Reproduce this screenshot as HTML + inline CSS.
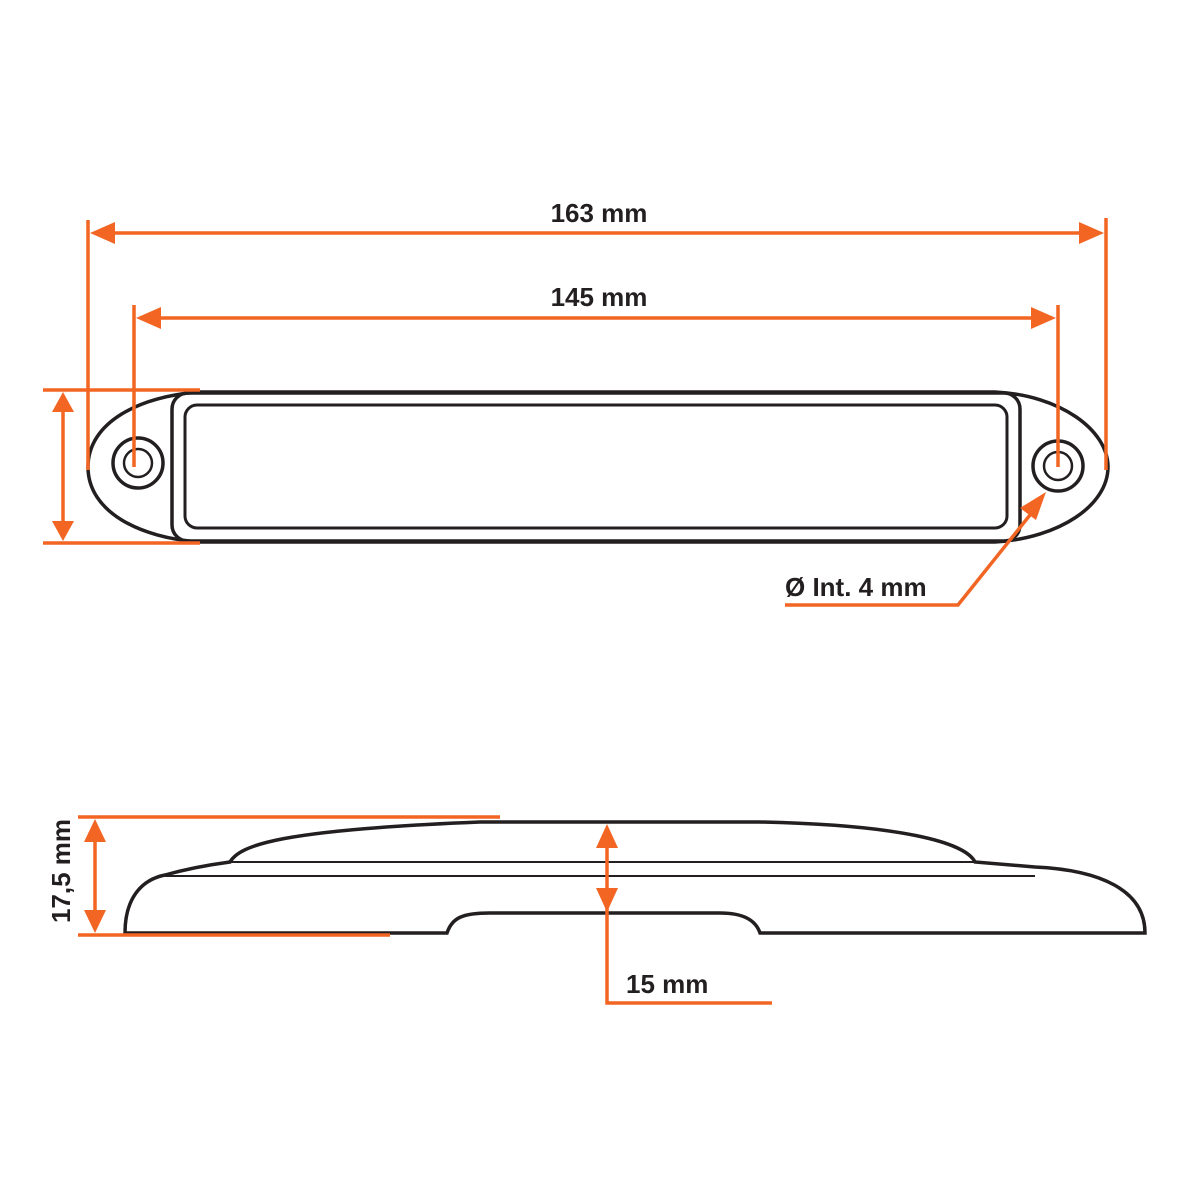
<!DOCTYPE html>
<html><head><meta charset="utf-8"><style>
html,body{margin:0;padding:0;background:#fff;}
svg{display:block}
text{font-family:"Liberation Sans",sans-serif;font-weight:bold;fill:#231f20}
</style></head><body>
<svg width="1200" height="1200" viewBox="0 0 1200 1200" xmlns="http://www.w3.org/2000/svg">
<g fill="none" stroke="#231f20" stroke-width="3.5">
<path d="M200,392 L995,392 C1060,395 1108,430 1108,467 C1108,505 1060,538 995,542 L200,542 C140,538 88,512 88,467 C88,422 140,396 200,392 Z"/>
<rect x="172" y="393" width="848" height="148" rx="16"/>
<rect x="185" y="405" width="822" height="123" rx="12" stroke-width="3"/>
<circle cx="138" cy="463" r="25"/>
<circle cx="138" cy="463" r="14" stroke-width="2.5"/>
<circle cx="1058" cy="466" r="25"/>
<circle cx="1058" cy="466" r="14" stroke-width="2.5"/>
<path d="M125,933 C125,900 140,880 165,875 C190,868 215,864 230,862 C240,845 280,830 480,822 L760,822 C900,825 965,842 975,862 L1035,867 C1100,870 1145,890 1145,933 L760,933 C755,918 740,913 720,913 L490,913 C462,913 452,918 447,933 Z"/>
<line x1="230" y1="862" x2="975" y2="862" stroke-width="2"/>
<line x1="165" y1="876" x2="1035" y2="876" stroke-width="2"/>
</g>
<g stroke="#f26522" stroke-width="3.5" fill="none">
<line x1="88" y1="220" x2="88" y2="470"/>
<line x1="1106" y1="218" x2="1106" y2="470"/>
<line x1="105" y1="233" x2="1090" y2="233"/>
<line x1="134" y1="305" x2="134" y2="467"/>
<line x1="1058" y1="305" x2="1058" y2="467"/>
<line x1="150" y1="318" x2="1042" y2="318"/>
<line x1="43" y1="390" x2="200" y2="390"/>
<line x1="43" y1="543" x2="200" y2="543"/>
<line x1="63" y1="405" x2="63" y2="528"/>
<polyline points="785,605 958,605 1030,515"/>
<line x1="78" y1="817" x2="500" y2="817"/>
<line x1="78" y1="935" x2="390" y2="935"/>
<line x1="95" y1="832" x2="95" y2="920"/>
<polyline points="607,840 607,1003 772,1003"/>
</g>
<g fill="#f26522">
<polygon points="90,233 115,222 115,244"/>
<polygon points="1104,233 1079,222 1079,244"/>
<polygon points="136,318 161,307 161,329"/>
<polygon points="1056,318 1031,307 1031,329"/>
<polygon points="63,392 52,412 74,412"/>
<polygon points="63,541 52,521 74,521"/>
<polygon points="1046,492 1020,508 1036,520"/>
<polygon points="95,819 84,842 106,842"/>
<polygon points="95,933 84,910 106,910"/>
<polygon points="607,824 596,848 618,848"/>
<polygon points="607,912 596,888 618,888"/>
</g>
<text x="599" y="222" font-size="26" text-anchor="middle">163 mm</text>
<text x="599" y="306" font-size="26" text-anchor="middle">145 mm</text>
<text x="785" y="596" font-size="26">Ø Int. 4 mm</text>
<text x="626" y="993" font-size="26">15 mm</text>
<text x="0" y="0" font-size="26" text-anchor="middle" transform="translate(70,871) rotate(-90)">17,5 mm</text>
</svg>
</body></html>
